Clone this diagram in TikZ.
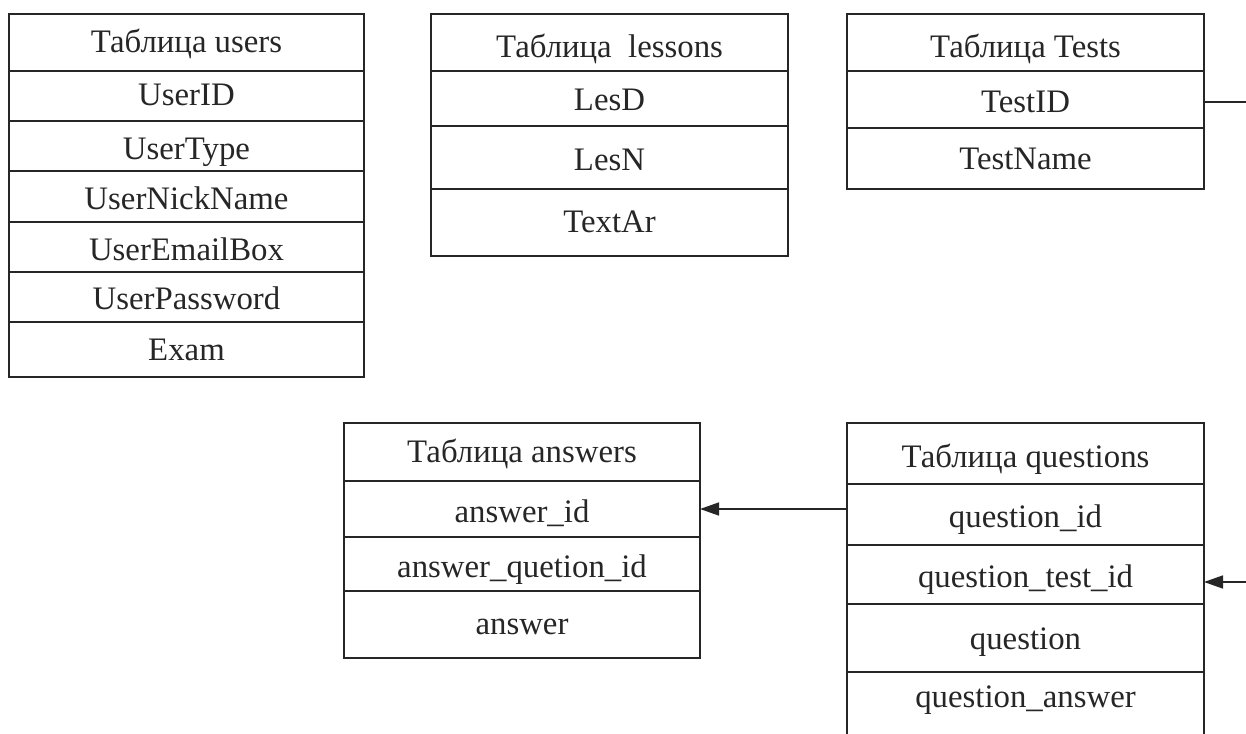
\documentclass[tikz,border=0pt]{standalone}
\usepackage{fontspec}
\setmainfont{Liberation Serif}
\usetikzlibrary{arrows.meta}
\tikzset{
  cell/.style={draw=black!85, line width=1.6pt, inner sep=0pt, outer sep=0pt},
  lbl/.style={anchor=base, inner sep=0pt, yshift=-2.5pt, text=black!85, font=\fontsize{32.8}{39}\selectfont},
  link/.style={draw=black!85, line width=1.6pt},
  fk/.style={link, -{Triangle[length=19pt,width=13pt]}}
}
% name, x1, y1, x2, y2, baseline, text
\newcommand\dbrow[7]{%
  \node[cell, minimum width={#4pt-#2pt}, minimum height={#5pt-#3pt}] (#1) at ({(#2+#4)/2},{(#3+#5)/2}) {};
  \node[lbl] (#1-t) at ({(#2+#4)/2},#6) {#7};
}
\begin{document}
\begin{tikzpicture}[x=1pt,y=-1pt]
\clip (0,0) rectangle (1246,733);
% users
\dbrow{uh}{9}{14}{364}{71}{50}{Таблица users}
\dbrow{u1}{9}{71}{364}{121}{103}{UserID}
\dbrow{u2}{9}{121}{364}{171}{157}{UserType}
\dbrow{u3}{9}{171}{364}{222}{207}{UserNickName}
\dbrow{u4}{9}{222}{364}{272}{258}{UserEmailBox}
\dbrow{u5}{9}{272}{364}{322}{307}{UserPassword}
\dbrow{u6}{9}{322}{364}{377}{358}{Exam}
% lessons
\dbrow{lh}{431}{14}{788}{71}{55}{Таблица\ \ lessons}
\dbrow{l1}{431}{71}{788}{126}{108}{LesD}
\dbrow{l2}{431}{126}{788}{189}{168}{LesN}
\dbrow{l3}{431}{189}{788}{256}{230}{TextAr}
% tests
\dbrow{th}{847}{14}{1204}{71}{55}{Таблица Tests}
\dbrow{t1}{847}{71}{1204}{128}{110}{TestID}
\dbrow{t2}{847}{128}{1204}{189}{167}{TestName}
% answers
\dbrow{ah}{344}{423}{700}{481}{460}{Таблица answers}
\dbrow{a1}{344}{481}{700}{537}{520}{answer\_id}
\dbrow{a2}{344}{537}{700}{591}{575}{answer\_quetion\_id}
\dbrow{a3}{344}{591}{700}{658}{632}{answer}
% questions
\dbrow{qh}{847}{423}{1204}{484}{465}{Таблица questions}
\dbrow{q1}{847}{484}{1204}{545}{525}{question\_id}
\dbrow{q2}{847}{545}{1204}{604}{585}{question\_test\_id}
\dbrow{q3}{847}{604}{1204}{672}{647}{question}
\dbrow{q4}{847}{672}{1204}{760}{705}{question\_answer}
% connectors
\coordinate (tout) at (1250,102);
\coordinate (qin) at (1250,582);
\draw[link] (t1.east |- tout) -- (tout);
\draw[fk] (qin) -- (q2.east |- qin);
\draw[fk] (q1.west |- a1.east) -- (a1.east);
\end{tikzpicture}
\end{document}
